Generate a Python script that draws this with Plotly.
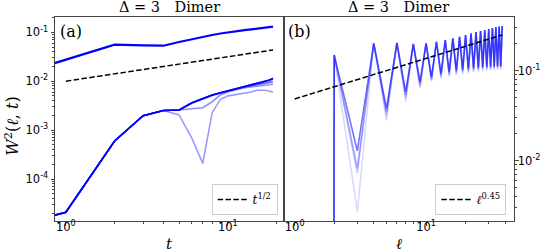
import plotly.graph_objects as go

# ---------------- data ----------------
# W^2 = 0 and t = 0 cannot sit on a log axis; the original clips them to tiny values,
# which we mimic with these stand-ins.
ZERO_T = 1e-26
ZERO_W_A = 1e-28
ZERO_W_B = 1e-300

# Panel (a): W^2 vs t  (values stored as log10; None = exactly zero at t = 0)
t_vals = list(range(0, 20))
a_top_log10 = [None, -1.573, -1.254, -1.266, -1.274, -1.198, -1.137, -1.09, -1.055, -1.025,
               -1.0, -0.983, -0.967, -0.952, -0.939, -0.926, -0.913, -0.903, -0.894, -0.885]
a_l1_log10 = [None, -4.68, -3.223, -2.706, -2.60, -2.589, -2.44, -2.35, -2.282, -2.235,
              -2.194, -2.16, -2.125, -2.097, -2.07, -2.045, -2.023, -1.998, -1.975, -1.94]
a_l2_log10 = [None, -4.68, -3.223, -2.706, -2.60, -2.589, -2.44, -2.35, -2.282, -2.235,
              -2.194, -2.16, -2.128, -2.10, -2.075, -2.05, -2.03, -2.01, -1.99, -1.96]
a_l3_log10 = [None, -4.68, -3.223, -2.706, -2.60, -2.589, -2.45, -2.36, -2.29, -2.24,
              -2.20, -2.165, -2.135, -2.11, -2.09, -2.07, -2.05, -2.035, -2.02, -2.01]
a_l4_log10 = [None, -4.68, -3.223, -2.706, -2.60, -2.589, -2.562, -2.542, -2.42, -2.28,
              -2.22, -2.18, -2.15, -2.13, -2.115, -2.10, -2.095, -2.085, -2.075, -2.063]
a_l5_log10 = [None, -4.68, -3.223, -2.706, -2.60, -2.69, -3.168, -3.68, -2.644, -2.37,
              -2.30, -2.28, -2.26, -2.24, -2.22, -2.186, -2.18, -2.186, -2.20, -2.227]
a_alphas = [1.0, 0.8, 0.6, 0.45, 0.4]
a_guide_coef, a_guide_exp = 0.01, 0.5

# Panel (b): W^2 vs ell (log10); peaks at even ell (2..38), troughs at odd ell (3..37)
ell_vals = list(range(1, 39))
b_peaks_log10 = [-0.826, -0.696, -0.69, -0.703, -0.696, -0.678, -0.659, -0.64, -0.622, -0.603,
                 -0.584, -0.57, -0.559, -0.548, -0.537, -0.526, -0.514, -0.509, -0.503]
b_trough1_log10 = [-1.892, -1.418, -1.233, -1.122, -1.067, -1.029, -1.011, -0.995, -0.985,
                   -0.975, -0.968, -0.962, -0.958, -0.955, -0.952, -0.95, -0.948, -0.946]
b_trough2_log10 = [-2.084, -1.46, -1.27, -1.15, -1.09, -1.05, -1.03, -1.015, -1.003,
                   -0.993, -0.985, -0.978, -0.973, -0.969, -0.966, -0.963, -0.96, -0.958]
b_trough3_log10 = [-2.14, -1.5, -1.305, -1.175, -1.105, -1.068, -1.048, -1.032, -1.02,
                   -1.01, -1.0, -0.993, -0.987, -0.982, -0.978, -0.975, -0.972, -0.97]
b_trough4_log10 = [-2.567, -1.548, -1.344, -1.196, -1.122, -1.085, -1.067, -1.05, -1.04,
                   -1.03, -1.02, -1.013, -1.007, -1.002, -0.998, -0.995, -0.993, -0.992]
b_alphas = [0.55, 0.3, 0.2, 0.15]
b_guide_coef, b_guide_exp = 0.0486, 0.45

title_text = "Δ = 3\u2003Dimer"

# ---------------- helpers ----------------
def to_lin(logs):
    return [ZERO_W_A if v is None else 10 ** v for v in logs]

t_plot = [ZERO_T if v == 0 else v for v in t_vals]

def build_b(troughs):
    vals = [ZERO_W_B]  # ell = 1 : zero
    for ell in ell_vals[1:]:
        if ell % 2 == 0:
            vals.append(10 ** b_peaks_log10[(ell - 2) // 2])
        else:
            vals.append(10 ** troughs[(ell - 3) // 2])
    return vals

fig = go.Figure()

# ---- panel (a)
fig.add_trace(go.Scatter(x=t_plot, y=to_lin(a_top_log10), mode="lines",
                         line=dict(color="rgb(0,0,255)", width=2.2), showlegend=False,
                         xaxis="x", yaxis="y"))
for series, al in zip([a_l5_log10, a_l4_log10, a_l3_log10, a_l2_log10, a_l1_log10],
                      a_alphas[::-1]):
    fig.add_trace(go.Scatter(x=t_plot, y=to_lin(series), mode="lines",
                             line=dict(color=f"rgba(0,0,255,{al})", width=1.6),
                             showlegend=False, xaxis="x", yaxis="y"))
tg = t_vals[1:]
fig.add_trace(go.Scatter(x=tg, y=[a_guide_coef * v ** a_guide_exp for v in tg], mode="lines",
                         line=dict(color="black", width=1.5, dash="5.5px,2.4px"),
                         name="<i>t</i><sup>1/2</sup>", legend="legend",
                         xaxis="x", yaxis="y"))

# ---- panel (b)
for tr, al in zip([b_trough4_log10, b_trough3_log10, b_trough2_log10, b_trough1_log10],
                  b_alphas[::-1]):
    fig.add_trace(go.Scatter(x=ell_vals, y=build_b(tr), mode="lines",
                             line=dict(color=f"rgba(0,0,255,{al})", width=1.6),
                             showlegend=False, xaxis="x2", yaxis="y2"))
fig.add_trace(go.Scatter(x=ell_vals, y=[b_guide_coef * v ** b_guide_exp for v in ell_vals],
                         mode="lines",
                         line=dict(color="black", width=1.5, dash="5.5px,2.4px"),
                         name="<i>ℓ</i><sup>0.45</sup>", legend="legend2",
                         xaxis="x2", yaxis="y2"))

# ---------------- axes ----------------
def minor_vals(lo_exp, hi_exp):
    out = []
    for e in range(lo_exp, hi_exp + 1):
        for m in range(2, 10):
            out.append(m * 10 ** e)
    return out

tickfont = dict(family="DejaVu Sans", size=11.5, color="black")
axcommon = dict(type="log", showgrid=False, zeroline=False, showline=True, mirror=True,
                linecolor="#444", linewidth=1, ticks="outside", ticklen=3.5, tickwidth=0.8,
                tickcolor="#444", tickfont=tickfont)
minor_common = dict(ticks="outside", ticklen=2, tickcolor="#444", tickwidth=0.6)

split = 232 / 466
fig.update_layout(
    width=552, height=252,
    margin=dict(l=55, r=31, t=17, b=31),
    paper_bgcolor="white", plot_bgcolor="white",
    xaxis=dict(domain=[0, split], range=[-0.0669, 1.3435], anchor="y",
               tickvals=[1, 10], ticktext=["10<sup>0</sup>", "10<sup>1</sup>"],
               ticklabelstandoff=-8,
               minor=dict(tickvals=minor_vals(-1, 1), **minor_common),
               **axcommon),
    yaxis=dict(domain=[0, 1], range=[-4.859, -0.687], anchor="x",
               tickvals=[1e-4, 1e-3, 1e-2, 1e-1],
               ticktext=["10<sup>-4</sup>", "10<sup>-3</sup>", "10<sup>-2</sup>", "10<sup>-1</sup>"],
               minor=dict(tickvals=minor_vals(-5, -1), **minor_common),
               **axcommon),
    xaxis2=dict(domain=[split, 1], range=[-0.0847, 1.6694], anchor="y2",
                tickvals=[1, 10], ticktext=["10<sup>0</sup>", "10<sup>1</sup>"],
                ticklabelstandoff=-8,
                minor=dict(tickvals=minor_vals(-1, 1), **minor_common),
                **axcommon),
    yaxis2=dict(domain=[0, 1], range=[-2.67, -0.403], anchor="x2", side="right",
                tickvals=[1e-2, 1e-1],
                ticktext=["10<sup>-2</sup>", "10<sup>-1</sup>"],
                ticklabelstandoff=-3,
                minor=dict(tickvals=minor_vals(-3, -1), **minor_common),
                **axcommon),
    legend=dict(x=(281 - 55) / 466, y=(221 - 215) / 204, xanchor="right", yanchor="bottom",
                bgcolor="white", bordercolor="#cccccc", borderwidth=1,
                font=dict(family="DejaVu Serif", size=12, color="black")),
    legend2=dict(x=(513.3 - 55) / 466, y=(221 - 215) / 204, xanchor="right", yanchor="bottom",
                 bgcolor="white", bordercolor="#cccccc", borderwidth=1,
                 font=dict(family="DejaVu Serif", size=12, color="black")),
)

def px_x(p):
    return (p - 55) / 466

def px_y(p):
    return (221 - p) / 204

serif = "DejaVu Serif"
ann = [
    dict(text=title_text, x=px_x(171), y=px_y(7), font=dict(family=serif, size=14.5)),
    dict(text=title_text, x=px_x(404), y=px_y(7), font=dict(family=serif, size=14.5)),
    dict(text="(a)", x=px_x(58), y=px_y(31.5), xanchor="left", font=dict(family=serif, size=16)),
    dict(text="(b)", x=px_x(290), y=px_y(31.5), xanchor="left", font=dict(family=serif, size=16)),
    dict(text="<i>W</i><sup>2</sup>(<i>ℓ</i>, <i>t</i>)", x=px_x(11), y=px_y(126),
         textangle=-90, font=dict(family=serif, size=16)),
    dict(text="<i>t</i>", x=px_x(171), y=px_y(243.5), font=dict(family=serif, size=15)),
    dict(text="<i>ℓ</i>", x=px_x(404), y=px_y(243.5), font=dict(family=serif, size=15)),
]
for a in ann:
    a.setdefault("xanchor", "center")
    a.update(xref="paper", yref="paper", yanchor="middle", showarrow=False)
    a["font"]["color"] = "black"
fig.update_layout(annotations=ann)

fig.write_html("out.html", config={"displayModeBar": False},
               post_script="document.body.style.margin='0';document.body.style.overflow='hidden';")
